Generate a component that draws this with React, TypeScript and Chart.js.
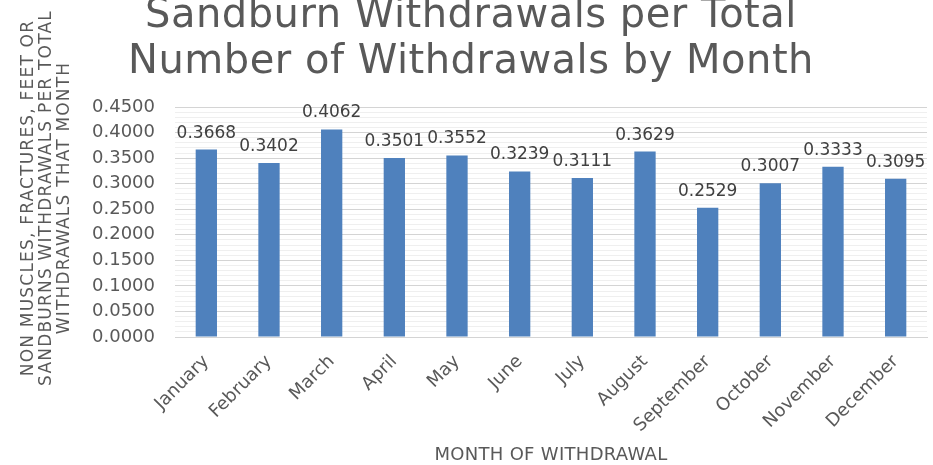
import React, { useEffect, useRef } from "react";
import { Chart, registerables } from "chart.js";

Chart.register(...registerables);

const months = [
  "January", "February", "March", "April", "May", "June",
  "July", "August", "September", "October", "November", "December",
];
const ratios = [
  0.3668, 0.3402, 0.4062, 0.3501, 0.3552, 0.3239,
  0.3111, 0.3629, 0.2529, 0.3007, 0.3333, 0.3095,
];
const titleLines = [
  "Sandburn Withdrawals per Total",
  "Number of Withdrawals by Month",
];
const yTitleLines = [
  "NON MUSCLES, FRACTURES, FEET OR",
  "SANDBURNS WITHDRAWALS PER TOTAL",
  "WITHDRAWALS THAT MONTH",
];
const xTitle = "MONTH OF WITHDRAWAL";

const FONT = "'DejaVu Sans', Verdana, sans-serif";
const TEXT = "#595959";

const textPlugin = {
  id: "textPlugin",
  afterDraw(chart: any) {
    const ctx = chart.ctx;
    const area = chart.chartArea;
    ctx.save();
    // Title
    ctx.fillStyle = TEXT;
    ctx.textAlign = "center";
    ctx.textBaseline = "alphabetic";
    ctx.font = `40px ${FONT}`;
    (ctx as any).letterSpacing = "0.5px";
    titleLines.forEach((t, i) => ctx.fillText(t, 471, 27 + i * 46));
    // X title
    ctx.font = `18px ${FONT}`;
    (ctx as any).letterSpacing = "0.3px";
    ctx.textBaseline = "middle";
    ctx.fillText(xTitle, (area.left + area.right) / 2, 455);
    // Y title
    ctx.save();
    ctx.translate(29, 198);
    ctx.rotate(-Math.PI / 2);
    ctx.font = `17px ${FONT}`;
    (ctx as any).letterSpacing = "1.2px";
    yTitleLines.forEach((t, i) => ctx.fillText(t, 0, i * 18));
    ctx.restore();
    // Data labels
    (ctx as any).letterSpacing = "0px";
    ctx.font = `17px ${FONT}`;
    ctx.fillStyle = "#404040";
    ctx.textBaseline = "alphabetic";
    const meta = chart.getDatasetMeta(0);
    meta.data.forEach((bar: any, i: number) => {
      ctx.fillText(ratios[i].toFixed(4), bar.x, bar.y - 12);
    });
    ctx.restore();
  },
};

export default function App() {
  const ref = useRef<HTMLCanvasElement>(null);
  useEffect(() => {
    if (!ref.current) return;
    const chart = new Chart(ref.current, {
      type: "bar",
      data: {
        labels: months,
        datasets: [
          {
            data: ratios,
            backgroundColor: "#4f81bd",
            borderWidth: 0,
            categoryPercentage: 1,
            barPercentage: 0.34,
          },
        ],
      },
      options: {
        responsive: false,
        animation: false,
        layout: { padding: { top: 107, right: 6, bottom: 0, left: 0 } },
        plugins: {
          legend: { display: false },
          title: { display: false },
          tooltip: { enabled: false },
        },
        scales: {
          y: {
            min: 0,
            max: 0.45,
            afterFit: (s: any) => {
              s.width = 175;
            },
            border: { display: false },
            grid: {
              drawTicks: false,
              color: (c: any) => (c.index % 5 === 0 ? "#d4d4d4" : "#efefef"),
              lineWidth: 1,
            },
            ticks: {
              stepSize: 0.01,
              autoSkip: false,
              padding: 20,
              color: TEXT,
              font: { family: FONT, size: 18 },
              callback: (v: any, i: number) =>
                i % 5 === 0 ? Number(v).toFixed(4) : "",
            },
          },
          x: {
            afterFit: (s: any) => {
              s.height = 128;
            },
            border: { display: true, color: "#d4d4d4" },
            grid: { display: false },
            ticks: {
              maxRotation: 45,
              minRotation: 45,
              autoSkip: false,
              padding: 6,
              color: TEXT,
              font: { family: FONT, size: 18 },
            },
          },
        },
      },
      plugins: [textPlugin],
    });
    return () => chart.destroy();
  }, []);
  return (
    <canvas
      ref={ref}
      width={933}
      height={465}
      style={{ position: "absolute", left: 0, top: 0, width: 933, height: 465 }}
    />
  );
}
